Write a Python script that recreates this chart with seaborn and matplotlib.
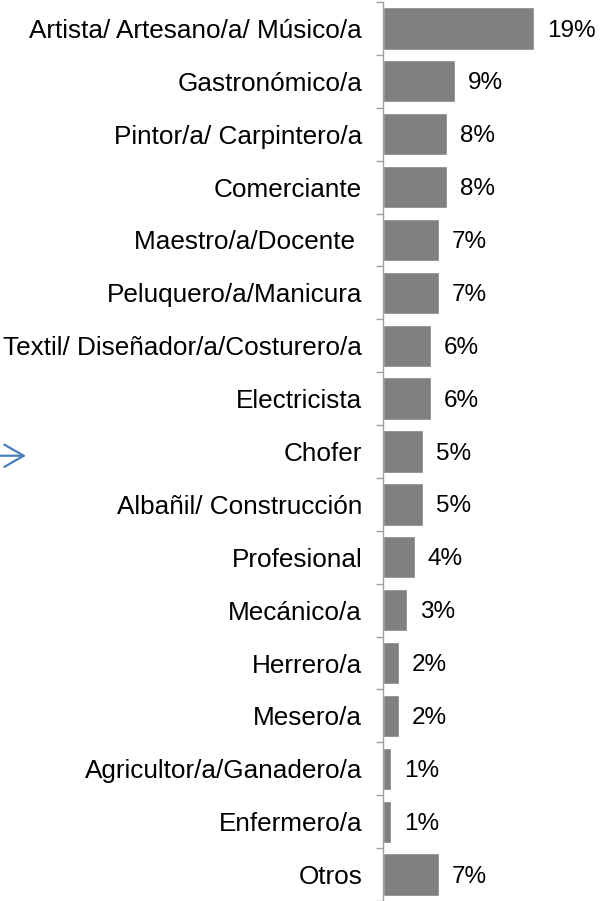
import matplotlib
matplotlib.use('Agg')
import matplotlib.pyplot as plt
import seaborn as sns
import pandas as pd
import numpy as np

# datos
ocupaciones = ['Artista/ Artesano/a/ Músico/a', 'Gastronómico/a', 'Pintor/a/ Carpintero/a',
               'Comerciante', 'Maestro/a/Docente ', 'Peluquero/a/Manicura',
               'Textil/ Diseñador/a/Costurero/a', 'Electricista', 'Chofer',
               'Albañil/ Construcción', 'Profesional', 'Mecánico/a', 'Herrero/a',
               'Mesero/a', 'Agricultor/a/Ganadero/a', 'Enfermero/a', 'Otros']
porcentajes = [19, 9, 8, 8, 7, 7, 6, 6, 5, 5, 4, 3, 2, 2, 1, 1, 7]
etiquetas = ['19%', '9%', '8%', '8%', '7%', '7%', '6%', '6%', '5%', '5%', '4%',
             '3%', '2%', '2%', '1%', '1%', '7%']

df = pd.DataFrame({'ocupacion': ocupaciones, 'pct': porcentajes})

sns.set_style('white')
plt.rcParams['font.family'] = ['Liberation Sans', 'DejaVu Sans']

fig = plt.figure(figsize=(6, 9.01), dpi=100)
ax = fig.add_axes([383 / 600, 0, 1 - 383 / 600, 1 - 2 / 901])

sns.barplot(data=df, x='pct', y='ocupacion', color='#808080', saturation=1,
            width=0.8, ax=ax)

n = len(ocupaciones)
ax.set_ylim(n - 0.5, -0.5)
ax.set_xlim(0, 27.3)
ax.set_xlabel('')
ax.set_ylabel('')
ax.set_xticks([])

for s in ['top', 'right', 'bottom']:
    ax.spines[s].set_visible(False)
ax.spines['left'].set_color('#a0a0a0')
ax.spines['left'].set_linewidth(1)

ax.tick_params(axis='y', which='major', length=0, pad=15, labelsize=18.8, labelcolor='black')
ax.set_yticks(np.arange(-0.5, n, 1), minor=True)
ax.tick_params(axis='y', which='minor', length=5, color='#a0a0a0', width=1, left=True)

for i, (v, t) in enumerate(zip(porcentajes, etiquetas)):
    ax.annotate(t, xy=(v, i), xytext=(9.5, -1.5), textcoords='offset points',
                va='center', ha='left', fontsize=17.5, color='black')

# flecha azul junto a Chofer
fila = ocupaciones.index('Chofer')
ax.annotate('', xy=(26 / 600, fila + 0.08), xycoords=('figure fraction', 'data'),
            xytext=(0, fila + 0.08), textcoords=('figure fraction', 'data'),
            arrowprops=dict(arrowstyle='->,head_length=0.7,head_width=0.4',
                            color='#4a7ebb', lw=1.6, mutation_scale=20,
                            shrinkA=0, shrinkB=0))

plt.savefig('out.png', dpi=100)
